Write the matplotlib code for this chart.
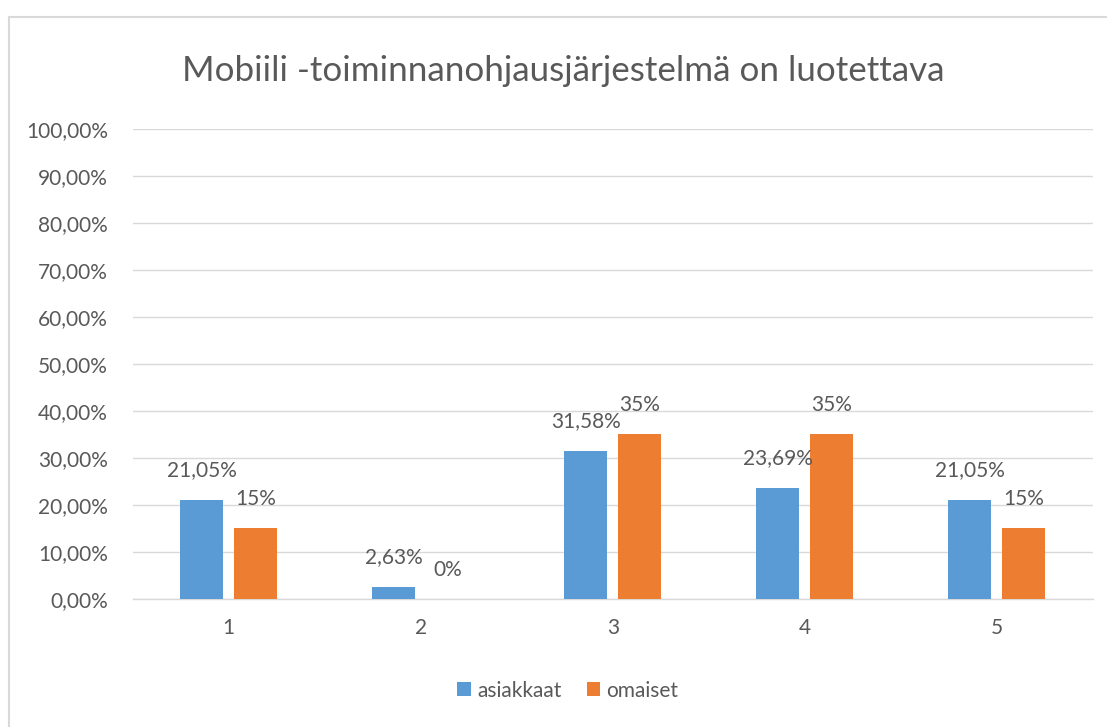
import matplotlib.pyplot as plt
import numpy as np

# data
categories = ["1", "2", "3", "4", "5"]
asiakkaat = [0.2105, 0.0263, 0.3158, 0.2369, 0.2105]
omaiset = [0.15, 0.0, 0.35, 0.35, 0.15]
asiakkaat_labels = ["21,05%", "2,63%", "31,58%", "23,69%", "21,05%"]
omaiset_labels = ["15%", "0%", "35%", "35%", "15%"]
y_ticks = [0.0, 0.1, 0.2, 0.3, 0.4, 0.5, 0.6, 0.7, 0.8, 0.9, 1.0]
y_tick_labels = ["0,00%", "10,00%", "20,00%", "30,00%", "40,00%", "50,00%",
                 "60,00%", "70,00%", "80,00%", "90,00%", "100,00%"]

blue = '#5b9bd5'
orange = '#ed7d31'
text_col = '#595959'
grid_col = '#d9d9d9'

plt.rcParams['font.family'] = ['Lato', 'DejaVu Sans']

fig = plt.figure(figsize=(11.07, 7.27), dpi=100)
ax = fig.add_axes([0.12, 0.176, 0.867, 0.647])

x = np.arange(1, len(categories) + 1)
w = 0.224
off = 0.14
ax.bar(x - off, asiakkaat, w, color=blue, label='asiakkaat', zorder=3)
ax.bar(x + off, omaiset, w, color=orange, label='omaiset', zorder=3)

# data labels
for xi, v, s in zip(x - off, asiakkaat, asiakkaat_labels):
    ax.annotate(s, (xi, v), xytext=(0, 14), textcoords='offset points',
                ha='center', va='bottom', fontsize=15, color=text_col)
for xi, v, s in zip(x + off, omaiset, omaiset_labels):
    ax.annotate(s, (xi, v), xytext=(0, 14), textcoords='offset points',
                ha='center', va='bottom', fontsize=15, color=text_col)

ax.set_xlim(0.5, 5.5)
ax.set_ylim(0, 1.0)
ax.set_yticks(y_ticks)
ax.set_yticklabels(y_tick_labels)
ax.set_xticks(x)
ax.set_xticklabels(categories)
ax.tick_params(axis='both', length=0, labelsize=15, labelcolor=text_col)
ax.tick_params(axis='y', pad=18)
ax.tick_params(axis='x', pad=14)
ax.grid(axis='y', color=grid_col, linewidth=1, zorder=0)
for sp in ['top', 'right', 'left']:
    ax.spines[sp].set_visible(False)
ax.spines['bottom'].set_color(grid_col)
ax.spines['bottom'].set_linewidth(1)

fig.suptitle('Mobiili -toiminnanohjausjärjestelmä on luotettava', x=0.509, y=0.925,
             fontsize=25.2, color=text_col, fontweight='normal')

fig.legend(loc='center', bbox_to_anchor=(0.513, 0.05), ncol=2, frameon=False,
           fontsize=15, labelcolor=text_col, handlelength=0.65, handleheight=0.65,
           handletextpad=0.3, columnspacing=1.2)

# chart border
border = plt.Rectangle((9 / 1107, -0.1), 1.2, 1 - 17 / 727 + 0.1, transform=fig.transFigure,
                       fill=False, edgecolor=grid_col, linewidth=1.5)
fig.patches.append(border)

fig.savefig('out.png', dpi=100)
